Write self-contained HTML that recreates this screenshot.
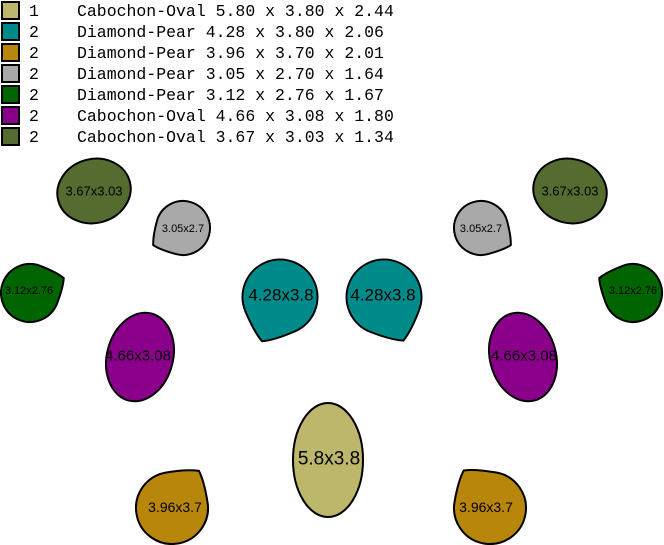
<!DOCTYPE html>
<html><head><meta charset="utf-8"><style>
html,body{margin:0;padding:0;background:#fff;width:664px;height:545px;overflow:hidden}
svg{display:block}
.l{font-family:"Liberation Mono",monospace;font-size:16.5px;fill:#000}
.s{font-family:"Liberation Sans",sans-serif;fill:#000;text-anchor:middle;dominant-baseline:central}
</style></head><body>
<svg width="664" height="545" viewBox="0 0 664 545" xmlns="http://www.w3.org/2000/svg">
<defs>
<path id="pear" d="M1,0 Q1,0.6 0.9,0.9 Q0.6,1 0,1 A1 1 0 1 1 1,0 Z"/>
</defs>
<g stroke="#000" stroke-width="2">
<rect x="2" y="2" width="17" height="17" fill="#bdb76b"/>
<rect x="2" y="23" width="17" height="17" fill="#008b8b"/>
<rect x="2" y="44" width="17" height="17" fill="#b8860b"/>
<rect x="2" y="65" width="17" height="17" fill="#a9a9a9"/>
<rect x="2" y="86" width="17" height="17" fill="#006400"/>
<rect x="2" y="107" width="17" height="17" fill="#8b008b"/>
<rect x="2" y="128" width="17" height="17" fill="#556b2f"/>
</g>
<g class="l">
<text x="29" y="16">1</text><text x="77" y="16">Cabochon-Oval 5.80 x 3.80 x 2.44</text>
<text x="29" y="37">2</text><text x="77" y="37">Diamond-Pear 4.28 x 3.80 x 2.06</text>
<text x="29" y="58">2</text><text x="77" y="58">Diamond-Pear 3.96 x 3.70 x 2.01</text>
<text x="29" y="79">2</text><text x="77" y="79">Diamond-Pear 3.05 x 2.70 x 1.64</text>
<text x="29" y="100">2</text><text x="77" y="100">Diamond-Pear 3.12 x 2.76 x 1.67</text>
<text x="29" y="121">2</text><text x="77" y="121">Cabochon-Oval 4.66 x 3.08 x 1.80</text>
<text x="29" y="142">2</text><text x="77" y="142">Cabochon-Oval 3.67 x 3.03 x 1.34</text>
</g>
<g stroke="#000" stroke-width="2">
<ellipse cx="94" cy="191" rx="37" ry="32" transform="rotate(-15 94 191)" fill="#556b2f"/>
<ellipse cx="570" cy="191" rx="37" ry="32" transform="rotate(15 570 191)" fill="#556b2f"/>
<ellipse cx="140" cy="357" rx="33" ry="45" transform="rotate(15 140 357)" fill="#8b008b"/>
<ellipse cx="523" cy="357" rx="33" ry="45" transform="rotate(-15 523 357)" fill="#8b008b"/>
<ellipse cx="328" cy="460" rx="35" ry="57" fill="#bdb76b"/>
<g fill="#008b8b">
<use href="#pear" transform="translate(280 297) rotate(67) scale(37.5)" stroke-width="0.053"/>
<use href="#pear" transform="translate(384 297) rotate(21) scale(37.5)" stroke-width="0.053"/>
</g>
<g fill="#a9a9a9">
<use href="#pear" transform="translate(183 228) rotate(105) scale(27)" stroke-width="0.074"/>
<use href="#pear" transform="translate(481 228) rotate(-15) scale(27)" stroke-width="0.074"/>
</g>
<g fill="#006400">
<use href="#pear" transform="translate(30 293) rotate(-69) scale(29)" stroke-width="0.069"/>
<use href="#pear" transform="translate(633 293) rotate(159) scale(29)" stroke-width="0.069"/>
</g>
<g fill="#b8860b">
<use href="#pear" transform="translate(172 508) rotate(-99) scale(36)" stroke-width="0.056"/>
<use href="#pear" transform="translate(490 508) rotate(190) scale(36)" stroke-width="0.056"/>
</g>
</g>
<g class="s">
<text x="94" y="191" font-size="13">3.67x3.03</text>
<text x="570" y="191" font-size="13">3.67x3.03</text>
<text x="183" y="229" font-size="11">3.05x2.7</text>
<text x="481" y="229" font-size="11">3.05x2.7</text>
<text x="29" y="291" font-size="11">3.12x2.76</text>
<text x="633" y="291" font-size="11">3.12x2.76</text>
<text x="281" y="295" font-size="17">4.28x3.8</text>
<text x="383" y="295" font-size="17">4.28x3.8</text>
<text x="138" y="356" font-size="15">4.66x3.08</text>
<text x="524" y="356" font-size="15">4.66x3.08</text>
<text x="329" y="459" font-size="19">5.8x3.8</text>
<text x="175" y="507" font-size="14">3.96x3.7</text>
<text x="486" y="507" font-size="14">3.96x3.7</text>
</g>
</svg>
</body></html>
